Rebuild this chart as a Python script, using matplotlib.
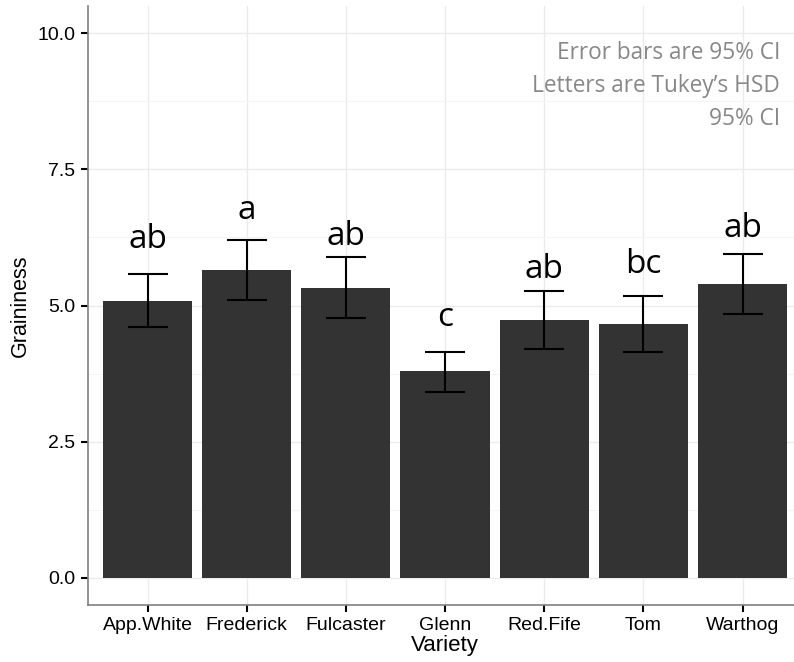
import matplotlib
matplotlib.use("Agg")
import matplotlib.pyplot as plt
from matplotlib.ticker import MultipleLocator
import numpy as np

varieties = ["App.White", "Frederick", "Fulcaster", "Glenn", "Red.Fife", "Tom", "Warthog"]
means = [5.09, 5.66, 5.32, 3.80, 4.74, 4.66, 5.40]
ci_low = [4.61, 5.10, 4.77, 3.42, 4.20, 4.15, 4.85]
ci_high = [5.57, 6.20, 5.89, 4.15, 5.26, 5.18, 5.94]
letters = ["ab", "a", "ab", "c", "ab", "bc", "ab"]
letter_y = [6.06, 6.59, 6.12, 4.63, 5.51, 5.60, 6.26]
yticks = [0.0, 2.5, 5.0, 7.5, 10.0]
note = "Error bars are 95% CI\nLetters are Tukey\u2019s HSD\n95% CI"

fig = plt.figure(figsize=(7.94, 6.62), dpi=100)
ax = fig.add_axes([88/794, 1 - 605/662, (802 - 88)/794, (605 - 6)/662])

x = np.arange(len(varieties))
ax.bar(x, means, width=0.9, color="#333333", zorder=2)
ax.errorbar(x, means, yerr=[np.array(means) - np.array(ci_low), np.array(ci_high) - np.array(means)],
            fmt="none", ecolor="black", elinewidth=1.5, capsize=14.5, capthick=1.5, zorder=3)
for xi, lab, ly in zip(x, letters, letter_y):
    ax.text(xi, ly, lab, ha="center", va="baseline", fontsize=24, family="Open Sans", color="black", zorder=4)

ax.set_xlim(-0.6, 6.6)
ax.set_ylim(-0.5, 10.5)
ax.set_xticks(x)
ax.set_xticklabels(varieties, family="Liberation Sans", fontsize=14)
ax.set_yticks(yticks)
ax.set_yticklabels([f"{v:.1f}" for v in yticks], family="Liberation Sans", fontsize=14)
ax.yaxis.set_minor_locator(MultipleLocator(1.25))
ax.grid(True, which="major", color="#ebebeb", linewidth=1.0, zorder=0)
ax.grid(True, which="minor", axis="y", color="#f5f5f5", linewidth=0.8, zorder=0)
ax.set_axisbelow(True)
ax.tick_params(axis="both", which="major", length=5, width=1.5, color="black", pad=4)
ax.tick_params(axis="y", which="minor", length=0)
for s in ["top", "right"]:
    ax.spines[s].set_visible(False)
for s in ["left", "bottom"]:
    ax.spines[s].set_color("#808080")
    ax.spines[s].set_linewidth(1.2)

ax.set_xlabel("Variety", family="Liberation Sans", fontsize=16, labelpad=0)
ax.set_ylabel("Graininess", family="Liberation Sans", fontsize=15.5, labelpad=5)

fig.text(780/794, 1 - 41/662, note, ha="right", va="top", fontsize=16.3, family="Open Sans",
         color="#888888", linespacing=1.5, multialignment="right")

fig.savefig("out.png", dpi=100)
